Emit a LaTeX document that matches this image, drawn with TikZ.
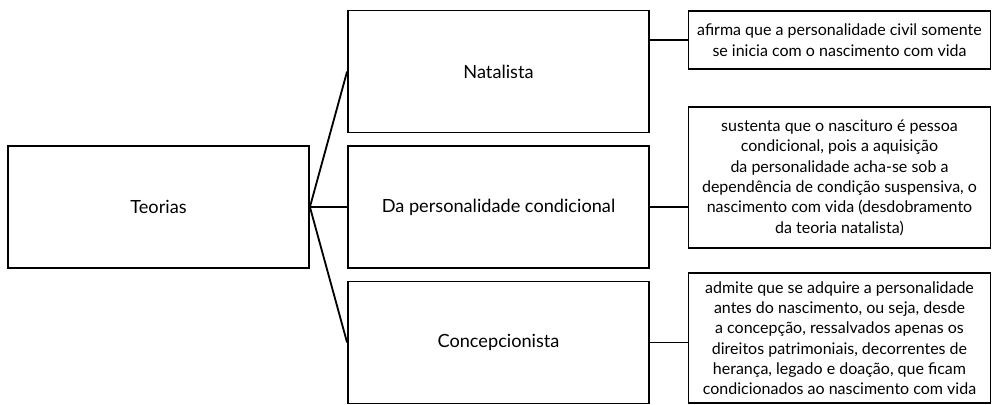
\documentclass[tikz,border=0pt]{standalone}
\usepackage{fontspec}
\setmainfont{Lato}
\usetikzlibrary{positioning}

\begin{document}
\begin{tikzpicture}[x=0.6pt, y=-0.6pt,
    box/.style={draw, line width=1.1pt, align=center, inner sep=0pt},
    theory/.style={box, minimum width=180.6pt, minimum height=73.2pt,
        font=\fontsize{10.9}{13}\selectfont},
    note/.style={box, minimum width=181.2pt, font=\fontsize{9.6}{12.2}\selectfont},
    link/.style={line width=1.1pt}]
    % picture size in pixels of the reference
    \useasboundingbox (0,0) rectangle (992,404);
    % theories
    \node[theory] (teorias) at (158.5,207) {Teorias};
    \node[theory] (natal) at (498.5,71.5) {Natalista};
    \node[theory] (cond) at (498.5,207) {Da personalidade condicional};
    \node[theory] (concep) at (498.5,342.5) {Concepcionista};
    % explanations
    \node[note, minimum height=34.8pt] (afirma) at (839.5,40)
        {afirma que a personalidade civil somente\\se inicia com o nascimento com vida};
    \node[note, minimum height=84.6pt] (sustenta) at (839.5,177.5)
        {sustenta que o nascituro é pessoa\\condicional, pois a aquisição\\da personalidade acha-se sob a\\dependência de condição suspensiva, o\\nascimento com vida (desdobramento\\da teoria natalista)};
    \node[note, minimum height=78pt] (admite) at (839.5,338)
        {admite que se adquire a personalidade\\antes do nascimento, ou seja, desde\\a concepção, ressalvados apenas os\\direitos patrimoniais, decorrentes de\\herança, legado e doação, que ficam\\condicionados ao nascimento com vida};
    % connectors
    \draw[link] (teorias.east) -- (natal.west);
    \draw[link] (teorias.east) -- (cond.west);
    \draw[link] (teorias.east) -- (concep.west);
    \draw[link] (afirma.west -| natal.east) -- (afirma.west);
    \draw[link] (cond.east) -- (cond.east -| sustenta.west);
    \draw[link] (concep.east) -- (concep.east -| admite.west);
\end{tikzpicture}
\end{document}
